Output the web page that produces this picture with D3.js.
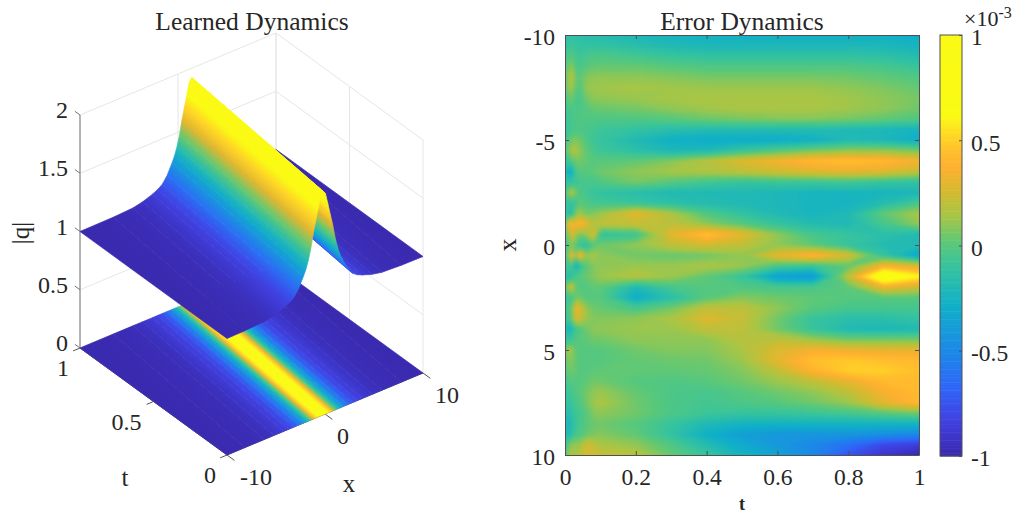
<!DOCTYPE html>
<html>
<head>
<meta charset="utf-8">
<script src="https://cdn.jsdelivr.net/npm/d3@7"></script>
<style>
    html, body { margin: 0; background: #fff; }
    svg { display: block; }
    text { font-family: "Liberation Serif", serif; fill: #262626; }
</style>
</head>
<body>
<div id="chart"></div>
<script>
// colour map (units of 1e-3)
const colorDomain = [-1, -0.84, -0.68, -0.51, -0.29, -0.1, 0.01, 0.13, 0.25, 0.37, 0.45, 0.53, 0.61, 1];
const colorRange = ['#3a2ab0', '#4040e0', '#3066f8', '#1c88e8', '#10b0c8', '#38c49c', '#5cc878', '#a4c648', '#d4ba30', '#ffb030', '#ffc02c', '#ffdc24', '#fafa14', '#fafa14'];

// left plot: soliton ridge, read from the front cut of the surface
const ridgeT = [0, 1];
const ridgeX = [-0.2, 1.4];
const qOffsets = [12, 8, 6, 5, 4, 3.5, 3, 2.5, 2, 1.75, 1.5, 1.25, 1, 0.75, 0.5, 0.25, 0, -0.25, -0.5, -0.75, -1, -1.25, -1.5, -1.75, -2, -2.5, -3, -3.5, -4, -5, -6, -8, -12];
const qValues = [1, 1.003, 1.012, 1.03, 1.06, 1.08, 1.11, 1.17, 1.26, 1.31, 1.38, 1.47, 1.59, 1.69, 1.79, 1.89, 1.92, 1.89, 1.79, 1.69, 1.59, 1.47, 1.38, 1.31, 1.26, 1.17, 1.11, 1.08, 1.06, 1.03, 1.012, 1.003, 1];
const zTicks = [0, 0.5, 1, 1.5, 2];
const xTicks3d = [-10, 0, 10];
const tTicks3d = [0, 0.5, 1];

// right plot: error field, one row per x, one column per t
const errT = [0, 0.01, 0.02, 0.03, 0.04, 0.06, 0.08, 0.1, 0.2, 0.3, 0.4, 0.5, 0.6, 0.7, 0.8, 0.9, 1];
const errX = d3.range(-10, 10.5, 0.5);
const errRows = [
    [-.15, -.15, -.12, -.15, -.15, -.16, -.17, -.18, -.22, -.25, -.27, -.28, -.28, -.28, -.28, -.28, -.30],
    [-.12, -.1, -.08, -.1, -.12, -.12, -.12, -.12, -.16, -.2, -.22, -.22, -.22, -.22, -.22, -.22, -.25],
    [-.08, -.02, .0, -.06, -.08, -.05, -.03, -.03, -.06, -.1, -.12, -.12, -.12, -.12, -.12, -.14, -.18],
    [-.05, .06, .1, -.02, -.05, .0, .02, .03, .03, .0, -.02, -.02, -.02, -.02, -.02, -.05, -.1],
    [-.05, .15, .2, .02, .0, .08, .1, .1, .1, .08, .06, .06, .06, .06, .05, .02, -.02],
    [-.05, .12, .15, .0, -.02, .1, .13, .13, .14, .13, .12, .12, .12, .12, .1, .07, .03],
    [-.08, .04, .05, -.03, -.05, .05, .1, .1, .12, .14, .15, .15, .15, .15, .13, .1, .06],
    [-.1, -.03, -.03, -.03, -.04, .0, .03, .04, .06, .1, .13, .15, .15, .15, .13, .1, .05],
    [-.12, -.06, -.05, -.02, -.02, -.02, -.02, -.03, -.02, .0, .04, .06, .08, .08, .06, .02, -.02],
    [-.12, -.08, -.05, -.03, -.03, -.04, -.06, -.08, -.12, -.16, -.18, -.18, -.18, -.18, -.2, -.22, -.25],
    [-.1, .0, .05, .08, .05, -.02, -.08, -.1, -.2, -.28, -.3, -.3, -.3, -.28, -.2, -.22, -.3],
    [-.08, .08, .16, .18, .1, .02, -.04, -.08, -.15, -.22, -.2, -.1, -.02, .05, .1, .1, .05],
    [-.1, -.08, .0, .05, .06, .03, .0, .0, .02, .08, .18, .28, .35, .42, .45, .42, .35],
    [-.15, -.35, -.3, -.05, .0, .0, .02, .05, .1, .14, .16, .2, .24, .28, .3, .28, .2],
    [-.12, -.15, -.1, -.1, -.05, -.05, -.05, -.02, .06, .0, -.06, -.1, -.08, -.08, -.06, -.1, -.12],
    [-.1, .1, .2, .05, -.02, -.06, -.1, -.12, -.16, -.2, -.2, -.2, -.22, -.24, -.24, -.24, -.22],
    [-.1, -.1, -.12, -.08, .02, -.02, -.05, -.06, -.1, -.14, -.18, -.2, -.22, -.24, -.25, -.18, -.05],
    [-.08, -.2, -.15, .05, .15, .05, .08, .12, .3, .15, -.02, -.12, -.2, -.24, -.2, .02, .15],
    [-.05, .4, .35, .3, .42, .3, .18, .2, .22, .2, .1, .0, -.1, -.18, -.2, -.05, .1],
    [-.05, .1, .3, .15, .05, .1, .3, -.12, -.08, .3, .45, .3, .1, -.05, -.1, -.15, -.2],
    [-.08, .0, .1, .0, -.08, -.15, .0, .05, .1, .2, .25, .2, .1, .02, -.1, -.18, -.2],
    [-.05, .05, .42, -.1, .42, .1, .15, .1, .05, .03, .05, .1, .3, .4, .25, -.1, -.35],
    [-.08, -.1, .0, -.4, -.15, .0, .08, .1, .12, .12, .15, .12, -.05, -.1, .02, .35, .25],
    [-.1, -.22, -.1, -.05, .0, .03, .08, .12, .18, .12, .02, -.1, -.38, -.42, .2, .85, .6],
    [-.08, .2, .25, .02, -.02, .0, .02, .02, -.2, -.05, .0, -.02, -.05, -.05, .02, .32, .22],
    [-.1, -.08, -.05, .05, .05, .0, .0, .0, -.3, -.15, .0, .08, .05, .02, .0, .0, .0],
    [-.08, -.05, .05, .3, .3, .1, .05, .03, -.05, .05, .2, .2, .1, .0, -.05, -.05, -.05],
    [-.1, -.1, .05, .25, .25, .12, .08, .08, .1, .15, .28, .22, .05, -.1, -.15, -.15, -.12],
    [-.15, -.3, -.2, -.05, -.03, .05, .1, .1, .12, .12, .2, .2, .05, -.1, -.2, -.22, -.2],
    [-.12, -.1, -.08, -.02, .0, .02, .05, .05, .1, .1, .1, .18, .2, .12, .05, .05, .05],
    [-.05, .2, .1, .02, .0, .0, .0, .0, .05, .08, .08, .15, .28, .35, .32, .3, .3],
    [-.05, .1, .08, .02, .0, .0, .0, .0, .03, .04, .05, .12, .3, .45, .48, .45, .42],
    [-.05, .05, .05, .02, .0, .0, .02, .02, .02, .02, .03, .08, .2, .38, .5, .5, .45],
    [-.08, -.02, .0, .0, .0, .02, .05, .05, .0, -.02, .0, .05, .12, .2, .3, .42, .42],
    [-.1, -.08, -.05, -.02, .0, .05, .1, .12, .03, -.03, -.05, .0, .05, .1, .2, .35, .42],
    [-.12, -.12, -.08, -.05, -.02, .05, .12, .15, .05, -.03, -.06, -.03, .0, .05, .12, .3, .42],
    [-.15, -.2, -.12, -.08, -.05, .0, .08, .1, .05, -.03, -.08, -.1, -.1, -.08, -.05, .0, .05],
    [-.18, -.25, -.15, -.1, -.05, .0, .04, .05, .0, -.1, -.2, -.25, -.25, -.25, -.25, -.25, -.25],
    [-.18, -.25, -.12, -.05, -.02, .02, .06, .08, .02, -.12, -.28, -.38, -.42, -.42, -.42, -.45, -.5],
    [-.1, .0, .12, .1, .1, .25, .2, .15, .1, -.02, -.18, -.32, -.42, -.5, -.62, -.8, -.85],
    [-.02, .12, .15, .15, .18, .25, .25, .22, .18, .03, -.1, -.25, -.35, -.5, -.75, -.9, -1]
];
const errTTicks = [0, 0.2, 0.4, 0.6, 0.8, 1];
const errXTicks = [-10, -5, 0, 5, 10];
const barTicks = [-1, -0.5, 0, 0.5, 1];

const svg = d3.select('#chart').append('svg')
    .attr('width', 1015)
    .attr('height', 515);
const defs = svg.append('defs');

const color = d3.scaleLinear().domain(colorDomain).range(colorRange).clamp(true);

// the source picture is soft, the filled areas get the same softness
const addBlur = (id, sx, sy) => defs.append('filter')
    .attr('id', id)
    .attr('color-interpolation-filters', 'sRGB')
    .append('feGaussianBlur')
    .attr('stdDeviation', sx + ' ' + sy);
addBlur('soft-sheet', 0.6, 0.6);
addBlur('soft-field', 2, 1.3);

/**
 * LEFT: 3d box, x and t each shift the point along their own screen direction
 */
const xToSx = d3.scaleLinear().domain([-10, 10]).range([0, 196]);
const xToSy = d3.scaleLinear().domain([-10, 10]).range([0, -82]);
const tToSx = d3.scaleLinear().domain([0, 1]).range([227, 80]);
const tToSy = d3.scaleLinear().domain([0, 1]).range([455, 348]);
const zToSy = d3.scaleLinear().domain([0, 2]).range([0, -233]);
const project = (x, t, z) => [
    tToSx(t) + xToSx(x),
    tToSy(t) + xToSy(x) + zToSy(z)
];
const qToValue = d3.scaleLinear().domain([1, d3.max(qValues)]).range([-1, 1]);

const left = svg.append('g');
const gridColor = '#e6e6e6';
const line3d = (a, b, stroke) => {
    const p = project(...a);
    const q = project(...b);
    return left.append('line')
        .attr('x1', p[0]).attr('y1', p[1])
        .attr('x2', q[0]).attr('y2', q[1])
        .attr('stroke', stroke)
        .attr('stroke-width', 1);
};

// walls
zTicks.forEach(z => {
    line3d([-10, 1, z], [10, 1, z], gridColor);
    line3d([10, 1, z], [10, 0, z], gridColor);
});
xTicks3d.forEach(x => line3d([x, 1, 0], [x, 1, 2], gridColor));
tTicks3d.forEach(t => line3d([10, t, 0], [10, t, 2], gridColor));

// axis lines and ticks
const axisColor = '#555';
line3d([-10, 1, 0], [-10, 1, 2], '#777');
line3d([-10, 0, 0], [-10, 1, 0], axisColor);
line3d([-10, 0, 0], [10, 0, 0], axisColor);
zTicks.forEach(z => line3d([-10, 1, z], [-10, 1.035, z], '#777'));
tTicks3d.forEach(t => line3d([-10, t, 0], [-10.7, t, 0], axisColor));
xTicks3d.forEach(x => line3d([x, 0, 0], [x, -0.05, 0], axisColor));

function addStrips(zOfQ, idPrefix) {
    const clampX = d3.scaleLinear().domain([-10, 10]).range([-10, 10]).clamp(true);
    const corner = (i, j) => project(
        clampX(ridgeX[j] + qOffsets[i]),
        ridgeT[j],
        zOfQ(qValues[i])
    );
    const strips = d3.range(qOffsets.length - 1);
    const g = left.append('g').attr('filter', 'url(#soft-sheet)');

    strips.forEach(i => {
        const a0 = corner(i, 0);
        const a1 = corner(i, 1);
        const b0 = corner(i + 1, 0);
        const b1 = corner(i + 1, 1);
        // gradient runs across the strip so colours stay parallel to the ridge
        const dx = a1[0] - a0[0];
        const dy = a1[1] - a0[1];
        const len = Math.hypot(dx, dy);
        const nx = -dy / len;
        const ny = dx / len;
        const along = (b0[0] - a0[0]) * nx + (b0[1] - a0[1]) * ny;
        const id = idPrefix + i;
        const grad = defs.append('linearGradient')
            .attr('id', id)
            .attr('gradientUnits', 'userSpaceOnUse')
            .attr('x1', a0[0]).attr('y1', a0[1])
            .attr('x2', a0[0] + nx * along).attr('y2', a0[1] + ny * along);
        grad.append('stop').attr('offset', 0).attr('stop-color', color(qToValue(qValues[i])));
        grad.append('stop').attr('offset', 1).attr('stop-color', color(qToValue(qValues[i + 1])));

        g.append('path')
            .attr('d', d3.line()([a0, a1, b1, b0]) + 'Z')
            .attr('fill', 'url(#' + id + ')')
            .attr('stroke', 'url(#' + id + ')')
            .attr('stroke-width', 0.7)
            .attr('stroke-linejoin', 'round');
    });
}

addStrips(() => 0, 'floor');
addStrips(q => q, 'sheet');

const text = (parent, str, x, y, size, anchor) => parent.append('text')
    .attr('x', x)
    .attr('y', y)
    .attr('font-size', size)
    .attr('text-anchor', anchor || 'middle')
    .text(str);

zTicks.forEach(z => {
    const p = project(-10, 1, z);
    text(left, String(z), 68, p[1] + 3, 24, 'end');
});
tTicks3d.forEach(t => {
    const p = project(-10, t, 0);
    text(left, String(t), p[0] - (t === 0.5 ? 27 : 17), p[1] + 28, 24);
});
xTicks3d.forEach(x => {
    const p = project(x, 0, 0);
    text(left, String(x), p[0] + (x === -10 ? 29 : x === 0 ? 18 : 24), p[1] + 30, 24);
});
text(left, 'Learned Dynamics', 252, 30, 25.5);
text(left, 't', 125, 486, 25);
text(left, 'x', 349, 492, 25);
left.append('text')
    .attr('transform', 'translate(29,233) rotate(-90)')
    .attr('font-size', 25)
    .attr('text-anchor', 'middle')
    .text('|q|');

/**
 * RIGHT: error field as filled d3 contours, columns of errT are not evenly spaced
 */
const plot = { left: 565, right: 919, top: 35, bottom: 455 };
const tScale = d3.scaleLinear().domain([0, 1]).range([plot.left, plot.right]);
const xScale = d3.scaleLinear().domain([-10, 10]).range([plot.top, plot.bottom]);
// the outer half cell runs past the box so the blur does not fade at the clip edge
const colToT = d3.scaleLinear()
    .domain([0, ...errT.map((d, i) => i + 0.5), errT.length])
    .range([-0.04, ...errT, 1.04]);
const rowToX = d3.scaleLinear()
    .domain([0, ...errX.map((d, i) => i + 0.5), errX.length])
    .range([-10.6, ...errX, 10.6]);

const levels = d3.range(-1.02, 1.02, 0.0125);
const contours = d3.contours()
    .size([errT.length, errX.length])
    .thresholds(levels)(errRows.flat());

const gridPath = d3.geoPath(d3.geoTransform({
    point(cx, cy) {
        this.stream.point(tScale(colToT(cx)), xScale(rowToX(cy)));
    }
}));

defs.append('clipPath').attr('id', 'field-clip').append('rect')
    .attr('x', plot.left).attr('y', plot.top)
    .attr('width', plot.right - plot.left).attr('height', plot.bottom - plot.top);

const right = svg.append('g');
right.append('g')
    .attr('clip-path', 'url(#field-clip)')
    .append('g')
    .attr('filter', 'url(#soft-field)')
    .selectAll('path')
    .data(contours)
    .join('path')
    .attr('d', gridPath)
    .attr('fill', d => color(d.value))
    .attr('stroke', d => color(d.value))
    .attr('stroke-width', 0.5);

const styleAxis = (sel, labelled) => {
    sel.select('.domain').attr('stroke', '#505050');
    sel.selectAll('.tick line').attr('stroke', '#505050');
    sel.selectAll('text')
        .attr('font-size', 23.5)
        .attr('font-family', '"Liberation Serif", serif')
        .attr('fill', '#262626');
    if (!labelled) sel.selectAll('text').remove();
};

right.append('g')
    .attr('transform', `translate(0,${plot.bottom})`)
    .call(d3.axisBottom(tScale).tickValues(errTTicks).tickSizeInner(-4).tickSizeOuter(0).tickPadding(13).tickFormat(String))
    .call(styleAxis, true);
right.append('g')
    .attr('transform', `translate(0,${plot.top})`)
    .call(d3.axisTop(tScale).tickValues(errTTicks).tickSizeInner(-4).tickSizeOuter(0))
    .call(styleAxis, false);
right.append('g')
    .attr('transform', `translate(${plot.left},0)`)
    .call(d3.axisLeft(xScale).tickValues(errXTicks).tickSizeInner(-4).tickSizeOuter(0).tickPadding(10).tickFormat(String))
    .call(styleAxis, true)
    .call(g => g.selectAll('text').attr('dy', '.42em'));
right.append('g')
    .attr('transform', `translate(${plot.right},0)`)
    .call(d3.axisRight(xScale).tickValues(errXTicks).tickSizeInner(-4).tickSizeOuter(0))
    .call(styleAxis, false);

text(right, 'Error Dynamics', 742, 30, 25.5);
text(right, 't', 742, 510, 18).attr('font-weight', 'bold');
right.append('text')
    .attr('transform', 'translate(516,245) rotate(-90)')
    .attr('font-size', 26)
    .attr('text-anchor', 'middle')
    .text('x');

/**
 * colour bar
 */
const bar = { left: 940, right: 962, top: 35, bottom: 456 };
const barScale = d3.scaleLinear().domain([-1, 1]).range([bar.bottom, bar.top]);
const barLevels = d3.range(-1, 1, 0.0125);
const barG = svg.append('g');
barG.selectAll('rect')
    .data(barLevels)
    .join('rect')
    .attr('x', bar.left)
    .attr('width', bar.right - bar.left)
    .attr('y', d => barScale(d + 0.0125))
    .attr('height', d => barScale(d) - barScale(d + 0.0125) + 0.5)
    .attr('fill', d => color(d));
barG.append('rect')
    .attr('x', bar.left).attr('y', bar.top)
    .attr('width', bar.right - bar.left).attr('height', bar.bottom - bar.top)
    .attr('fill', 'none')
    .attr('stroke', '#505050');
barG.append('g')
    .attr('transform', `translate(${bar.right},0)`)
    .call(d3.axisRight(barScale).tickValues(barTicks).tickSizeInner(-3).tickSizeOuter(0).tickPadding(9).tickFormat(String))
    .call(styleAxis, true)
    .call(g => g.select('.domain').remove())
    .call(g => g.selectAll('text').attr('dy', '.42em'));

const expo = barG.append('text').attr('x', 964).attr('y', 26).attr('font-size', 22);
expo.append('tspan').text('\u00d710');
expo.append('tspan').attr('font-size', 16).attr('dy', -8).text('-3');
</script>
</body>
</html>
